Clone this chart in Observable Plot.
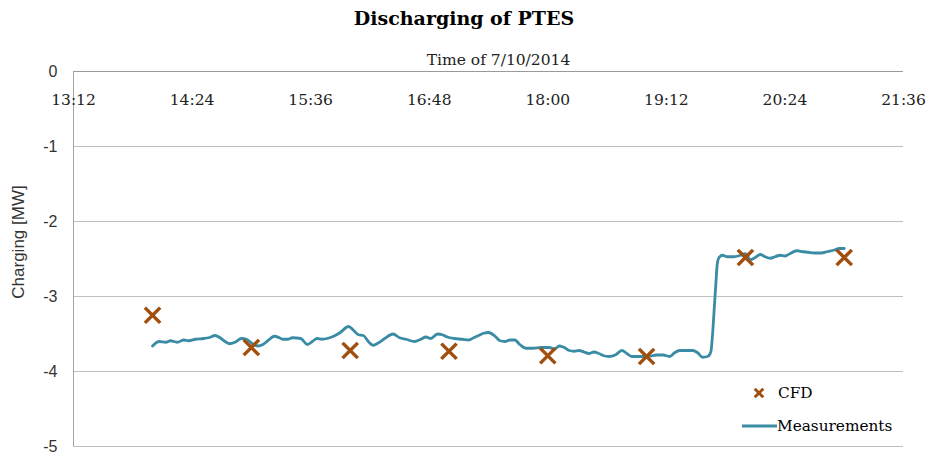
<!DOCTYPE html>
<html>
<head>
<meta charset="utf-8">
<script src="https://cdn.jsdelivr.net/npm/d3@7"></script>
<script src="https://cdn.jsdelivr.net/npm/@observablehq/plot@0.6"></script>
<style>
  html, body { margin: 0; padding: 0; background: #fff; }
  #wrap { position: relative; width: 928px; height: 457px; overflow: hidden; }
  #title { position: absolute; left: 0; top: 0; width: 928px; height: 36px; line-height: 36px; text-align: center;
           font-family: "DejaVu Serif", serif; font-weight: bold; font-size: 19px; color: #000; }
  #chart { position: absolute; left: 0; top: 36px; }
  .leg { position: absolute; font-family: "DejaVu Serif", serif; font-size: 15.3px; color: #000; line-height: 20px; white-space: nowrap; }
  .leg svg { position: absolute; }
</style>
</head>
<body>
<div id="wrap">
  <div id="title">Discharging of PTES</div>
  <div id="chart"></div>
  <div class="leg" style="left:750px; top:383px;">
    <svg width="18" height="18" style="left:0; top:1px;" id="legCFD"></svg>
    <span style="position:absolute; left:28px; top:0;">CFD</span>
  </div>
  <div class="leg" style="left:742px; top:416px;">
    <svg width="36" height="20" style="left:0; top:0;" id="legMeas"></svg>
    <span style="position:absolute; left:35px; top:0;">Measurements</span>
  </div>
</div>
<script>
// ---- data ----
const xTickLabels = ["13:12", "14:24", "15:36", "16:48", "18:00", "19:12", "20:24", "21:36"];
const yTicks = [0, -1, -2, -3, -4, -5];

const cfdTimes = ["14:00", "15:00", "16:00", "17:00", "18:00", "19:00", "20:00", "21:00"];
const cfdValues = [-3.25, -3.68, -3.72, -3.73, -3.79, -3.80, -2.48, -2.48];

const measTimes = [
  "14:00","14:04","14:08","14:11","14:15","14:19","14:22","14:26","14:31","14:34",
  "14:38","14:41","14:44","14:47","14:50","14:54","14:57","15:00","15:04","15:07",
  "15:10","15:14","15:17","15:19","15:22","15:25","15:30","15:34","15:37","15:40",
  "15:43","15:46","15:50","15:54","15:59","16:02","16:05","16:08","16:11","16:14",
  "16:17","16:21","16:26","16:30","16:34","16:39","16:43","16:46","16:49","16:53",
  "16:56","16:59","17:03","17:08","17:12","17:15","17:18","17:21","17:24","17:28",
  "17:31","17:34","17:37","17:40","17:43","17:47","17:51","17:56","18:01","18:04",
  "18:07","18:10","18:13","18:16","18:19","18:22","18:25","18:28","18:31","18:34",
  "18:37","18:41","18:45","18:48","18:51","18:56","19:01","19:06","19:10","19:14",
  "19:17","19:20","19:24","19:28","19:31","19:34","19:37","19:39","19:40","19:41",
  "19:42","19:43","19:44","19:46","19:49","19:53","19:57","20:00","20:03","20:06",
  "20:09","20:12","20:15","20:18","20:21","20:24","20:27","20:31","20:34","20:38",
  "20:42","20:46","20:50","20:54","20:57","21:00"
];
const measValues = [
  -3.66,-3.60,-3.61,-3.59,-3.61,-3.58,-3.59,-3.57,-3.56,-3.55,
  -3.52,-3.55,-3.60,-3.63,-3.61,-3.56,-3.57,-3.62,-3.66,-3.64,
  -3.59,-3.53,-3.55,-3.57,-3.57,-3.55,-3.56,-3.64,-3.60,-3.56,
  -3.57,-3.56,-3.53,-3.48,-3.40,-3.45,-3.51,-3.52,-3.60,-3.65,
  -3.62,-3.56,-3.50,-3.55,-3.57,-3.60,-3.57,-3.54,-3.56,-3.50,
  -3.51,-3.54,-3.56,-3.57,-3.58,-3.55,-3.52,-3.49,-3.48,-3.53,
  -3.59,-3.60,-3.58,-3.58,-3.64,-3.69,-3.69,-3.68,-3.68,-3.70,
  -3.66,-3.68,-3.72,-3.73,-3.72,-3.74,-3.76,-3.74,-3.76,-3.79,
  -3.80,-3.78,-3.72,-3.76,-3.80,-3.80,-3.80,-3.78,-3.78,-3.80,
  -3.75,-3.72,-3.72,-3.72,-3.75,-3.81,-3.80,-3.74,-3.52,-3.19,
  -2.85,-2.55,-2.48,-2.45,-2.47,-2.47,-2.45,-2.43,-2.51,-2.48,
  -2.44,-2.47,-2.49,-2.47,-2.45,-2.46,-2.43,-2.39,-2.40,-2.41,
  -2.42,-2.42,-2.40,-2.38,-2.36,-2.36
];

// ---- build ----
const parse = d3.utcParse("%H:%M");
const fmt = d3.utcFormat("%H:%M");
const tickDates = xTickLabels.map(parse);
const meas = measTimes.map((t, i) => ({time: parse(t), value: measValues[i]}));
const cfd = cfdTimes.map((t, i) => ({time: parse(t), value: cfdValues[i]}));

const teal = "#3a8ca5";
const brown = "#a04f0f";
const serif = "DejaVu Serif, serif";
const sans = "Liberation Sans, Arial, sans-serif";

const chart = Plot.plot({
  width: 928,
  height: 421,
  marginTop: 35,
  marginBottom: 11,
  marginLeft: 73,
  marginRight: 25,
  style: {background: "transparent", overflow: "visible"},
  x: {type: "utc", domain: [tickDates[0], tickDates[tickDates.length - 1]]},
  y: {domain: [-5, 0]},
  marks: [
    Plot.gridY(yTicks.filter(d => d !== 0), {stroke: "#bfbfbf", strokeOpacity: 1, strokeWidth: 1}),
    Plot.ruleY([0], {stroke: "#9a9a9a", strokeWidth: 1.2}),
    Plot.ruleX([tickDates[0]], {stroke: "#a6a6a6", strokeWidth: 1}),
    Plot.axisY(yTicks, {
      tickSize: 0, tickPadding: 16, tickFormat: d => String(d),
      fontSize: 16, fontFamily: sans, fill: "#333", label: null
    }),
    Plot.axisX(tickDates, {
      anchor: "top", tickSize: 0, tickPadding: 0, tickFormat: fmt,
      fontSize: 15.5, fontFamily: serif, fill: "#222", label: null, dy: 33
    }),
    Plot.text(["Time of 7/10/2014"], {
      frameAnchor: "top", dy: -18, dx: 10, fontSize: 15.5, fontFamily: serif, fill: "#222"
    }),
    Plot.text(["Charging [MW]"], {
      frameAnchor: "left", textAnchor: "middle", rotate: -90, dx: -55, dy: -17,
      fontSize: 17, fontFamily: sans, fill: "#333"
    }),
    Plot.line(meas, {x: "time", y: "value", stroke: teal, strokeWidth: 2.8, curve: "monotone-x"}),
    Plot.dot(cfd, {x: "time", y: "value", symbol: "times", r: 7, stroke: brown, strokeWidth: 3.5})
  ]
});
document.getElementById("chart").appendChild(chart);

// legend swatches
d3.select("#legCFD").append("path")
  .attr("transform", "translate(9,9)")
  .attr("d", d3.symbol(d3.symbolTimes, Math.PI * 16)())
  .attr("stroke", brown).attr("stroke-width", 3).attr("fill", "none");
d3.select("#legMeas").append("line")
  .attr("x1", 0).attr("x2", 35).attr("y1", 10).attr("y2", 10)
  .attr("stroke", teal).attr("stroke-width", 2.8);
</script>
</body>
</html>
